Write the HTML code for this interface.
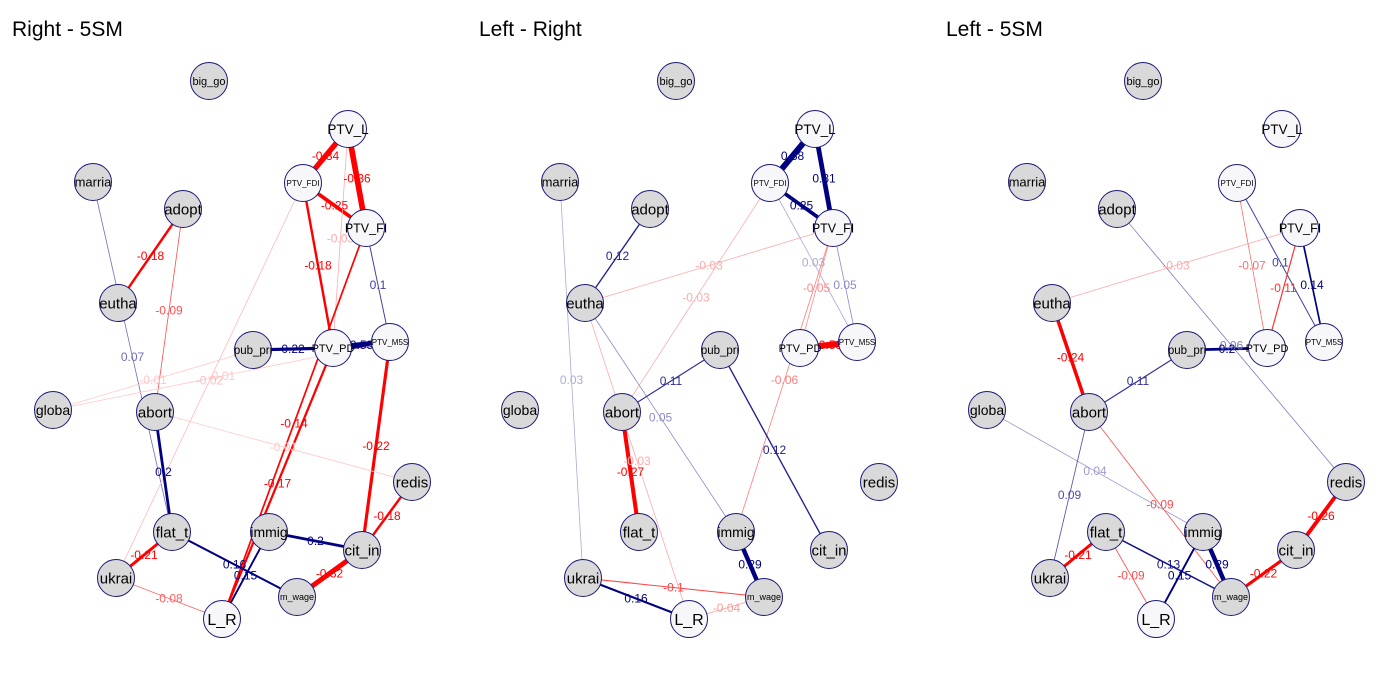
<!DOCTYPE html>
<html><head><meta charset="utf-8">
<style>
body{margin:0;background:#fff;}
svg{display:block;font-family:"Liberation Sans",Arial,sans-serif;}
</style></head>
<body>
<svg id="chart" width="1400" height="700" viewBox="0 0 1400 700" xmlns="http://www.w3.org/2000/svg"></svg>
<script>
// node names and fill type
const nodeNames = ["big_go","PTV_L","PTV_FDI","PTV_FI","marria","adopt","eutha","pub_pri","PTV_PD","PTV_MSS","globa","abort","redis","flat_t","immig","cit_in","ukrai","m_wage","L_R"];
const nodeLabels = ["big_go","PTV_L","PTV_FDI","PTV_FI","marria","adopt","eutha","pub_pri","PTV_PD","PTV_M5S","globa","abort","redis","flat_t","immig","cit_in","ukrai","m_wage","L_R"];
const nodeLight = [0,1,1,1,0,0,0,0,1,1,0,0,0,0,0,0,0,0,1];
const nodeFont = [11,13.5,8,12.5,13,15,15,11.5,11,8,14,15,15,15,14,15,15,9,16];
// layout coordinates (graph layout, panel-local)
const layoutX = [209,348,303,366,93,183,118,253,333,390,53,155,412,172,269,362,116,297,222];
const layoutY = [81,129,183,228,182,209,303,350,348,342,410,412,482,532,532,550,578,597,619];
const panelTitles = ["Right - 5SM","Left - Right","Left - 5SM"];
const panelOffsets = [0,467,934];
// edges: from, to, weight
const edgesP1From = ["PTV_L","PTV_L","PTV_FDI","PTV_FDI","PTV_L","PTV_FI","PTV_FI","PTV_PD","pub_pri","PTV_PD","PTV_MSS","marria","adopt","adopt","globa","globa","ukrai","abort","abort","flat_t","immig","redis","cit_in","ukrai","ukrai","L_R"];
const edgesP1To   = ["PTV_FDI","PTV_FI","PTV_FI","PTV_PD","PTV_PD","PTV_MSS","L_R","L_R","PTV_PD","PTV_MSS","cit_in","flat_t","eutha","abort","pub_pri","PTV_MSS","PTV_FDI","flat_t","redis","m_wage","cit_in","cit_in","m_wage","flat_t","L_R","immig"];
const edgesP1W    = [-0.34,-0.36,-0.25,-0.18,-0.03,0.1,-0.14,-0.17,0.22,0.53,-0.22,0.07,-0.18,-0.09,-0.01,-0.01,-0.02,0.2,-0.01,0.16,0.2,-0.18,-0.32,-0.21,-0.08,0.15];
const edgesP2From = ["PTV_L","PTV_L","PTV_FDI","adopt","eutha","PTV_FDI","PTV_FDI","PTV_FI","PTV_FI","PTV_FI","PTV_PD","marria","eutha","eutha","abort","pub_pri","abort","immig","ukrai","ukrai","L_R"];
const edgesP2To   = ["PTV_FDI","PTV_FI","PTV_FI","eutha","PTV_FI","abort","PTV_MSS","PTV_MSS","PTV_PD","immig","PTV_MSS","ukrai","L_R","immig","pub_pri","cit_in","flat_t","m_wage","m_wage","L_R","m_wage"];
const edgesP2W    = [0.38,0.31,0.25,0.12,-0.03,-0.03,0.03,0.05,-0.05,-0.06,-0.53,0.03,-0.03,0.05,0.11,0.12,-0.27,0.29,-0.1,0.16,-0.04];
const edgesP3From = ["adopt","eutha","PTV_FDI","PTV_FDI","PTV_FI","PTV_FI","pub_pri","eutha","abort","globa","abort","abort","flat_t","flat_t","flat_t","immig","immig","m_wage","cit_in"];
const edgesP3To   = ["redis","PTV_FI","PTV_PD","PTV_MSS","PTV_PD","PTV_MSS","PTV_PD","abort","pub_pri","immig","ukrai","m_wage","ukrai","L_R","m_wage","L_R","m_wage","cit_in","redis"];
const edgesP3W    = [0.06,-0.03,-0.07,0.1,-0.11,0.14,0.2,-0.24,0.11,0.04,0.09,-0.09,-0.21,-0.09,0.13,0.15,0.29,-0.22,-0.26];

const svg = document.getElementById('chart');
const NS = "http://www.w3.org/2000/svg";
const R = 18.5;
function xPos(i, p){ return layoutX[i] + panelOffsets[p]; }
function yPos(i){ return layoutY[i]; }
function colorFor(w){
  const a = Math.min(1, 0.15 + Math.abs(w)*6);
  const base = w > 0 ? [0,0,128] : [255,0,0];
  const c = base.map(v => Math.round(255 - (255 - v)*a));
  return "rgb(" + c.join(",") + ")";
}
function widthFor(w){ return Math.min(6, Math.max(0.8, Math.abs(w)*18 - 0.8)); }

const allEdges = [[edgesP1From,edgesP1To,edgesP1W],[edgesP2From,edgesP2To,edgesP2W],[edgesP3From,edgesP3To,edgesP3W]];

for (let p = 0; p < 3; p++) {
  const g = document.createElementNS(NS,'g');
  
  
  svg.appendChild(g);
  const t = document.createElementNS(NS,'text');
  
  
  t.setAttribute('x', 12 + panelOffsets[p]);
  t.setAttribute('y', 36);
  t.setAttribute('font-size', '21');
  t.setAttribute('fill', '#000');
  t.textContent = panelTitles[p];
  g.appendChild(t);
  const [fr, to, ws] = allEdges[p];
  const labels = [];
  for (let e = 0; e < fr.length; e++) {
    const a = nodeNames.indexOf(fr[e]), b = nodeNames.indexOf(to[e]);
    const x1 = xPos(a,p), y1 = yPos(a), x2 = xPos(b,p), y2 = yPos(b);
    const col = colorFor(ws[e]);
    const l = document.createElementNS(NS,'line');
    
    
    l.setAttribute('x1', x1); l.setAttribute('y1', y1);
    l.setAttribute('x2', x2); l.setAttribute('y2', y2);
    l.setAttribute('stroke', col);
    l.setAttribute('stroke-width', widthFor(ws[e]));
    g.appendChild(l);
    const lt = document.createElementNS(NS,'text');
    
    
    lt.setAttribute('x', (x1+x2)/2);
    lt.setAttribute('y', (y1+y2)/2 + 4);
    lt.setAttribute('font-size', '12');
    lt.setAttribute('text-anchor', 'middle');
    lt.setAttribute('fill', col);
    lt.textContent = String(ws[e]);
    labels.push(lt);
  }
  labels.forEach(l => g.appendChild(l));
  for (let i = 0; i < nodeNames.length; i++) {
    const c = document.createElementNS(NS,'circle');
    
    
    c.setAttribute('cx', xPos(i,p)); c.setAttribute('cy', yPos(i));
    c.setAttribute('r', R);
    c.setAttribute('fill', nodeLight[i] ? '#f7f7f9' : '#d9d9d9');
    c.setAttribute('stroke', '#1a1a7a');
    c.setAttribute('stroke-width', '1');
    g.appendChild(c);
    const nt = document.createElementNS(NS,'text');
    
    
    const fs = nodeFont[i];
    nt.setAttribute('x', xPos(i,p)); nt.setAttribute('y', yPos(i) + fs*0.36);
    nt.setAttribute('font-size', fs);
    nt.setAttribute('text-anchor', 'middle');
    nt.setAttribute('fill', '#000');
    nt.textContent = nodeLabels[i];
    g.appendChild(nt);
  }
}
</script>
</body></html>
